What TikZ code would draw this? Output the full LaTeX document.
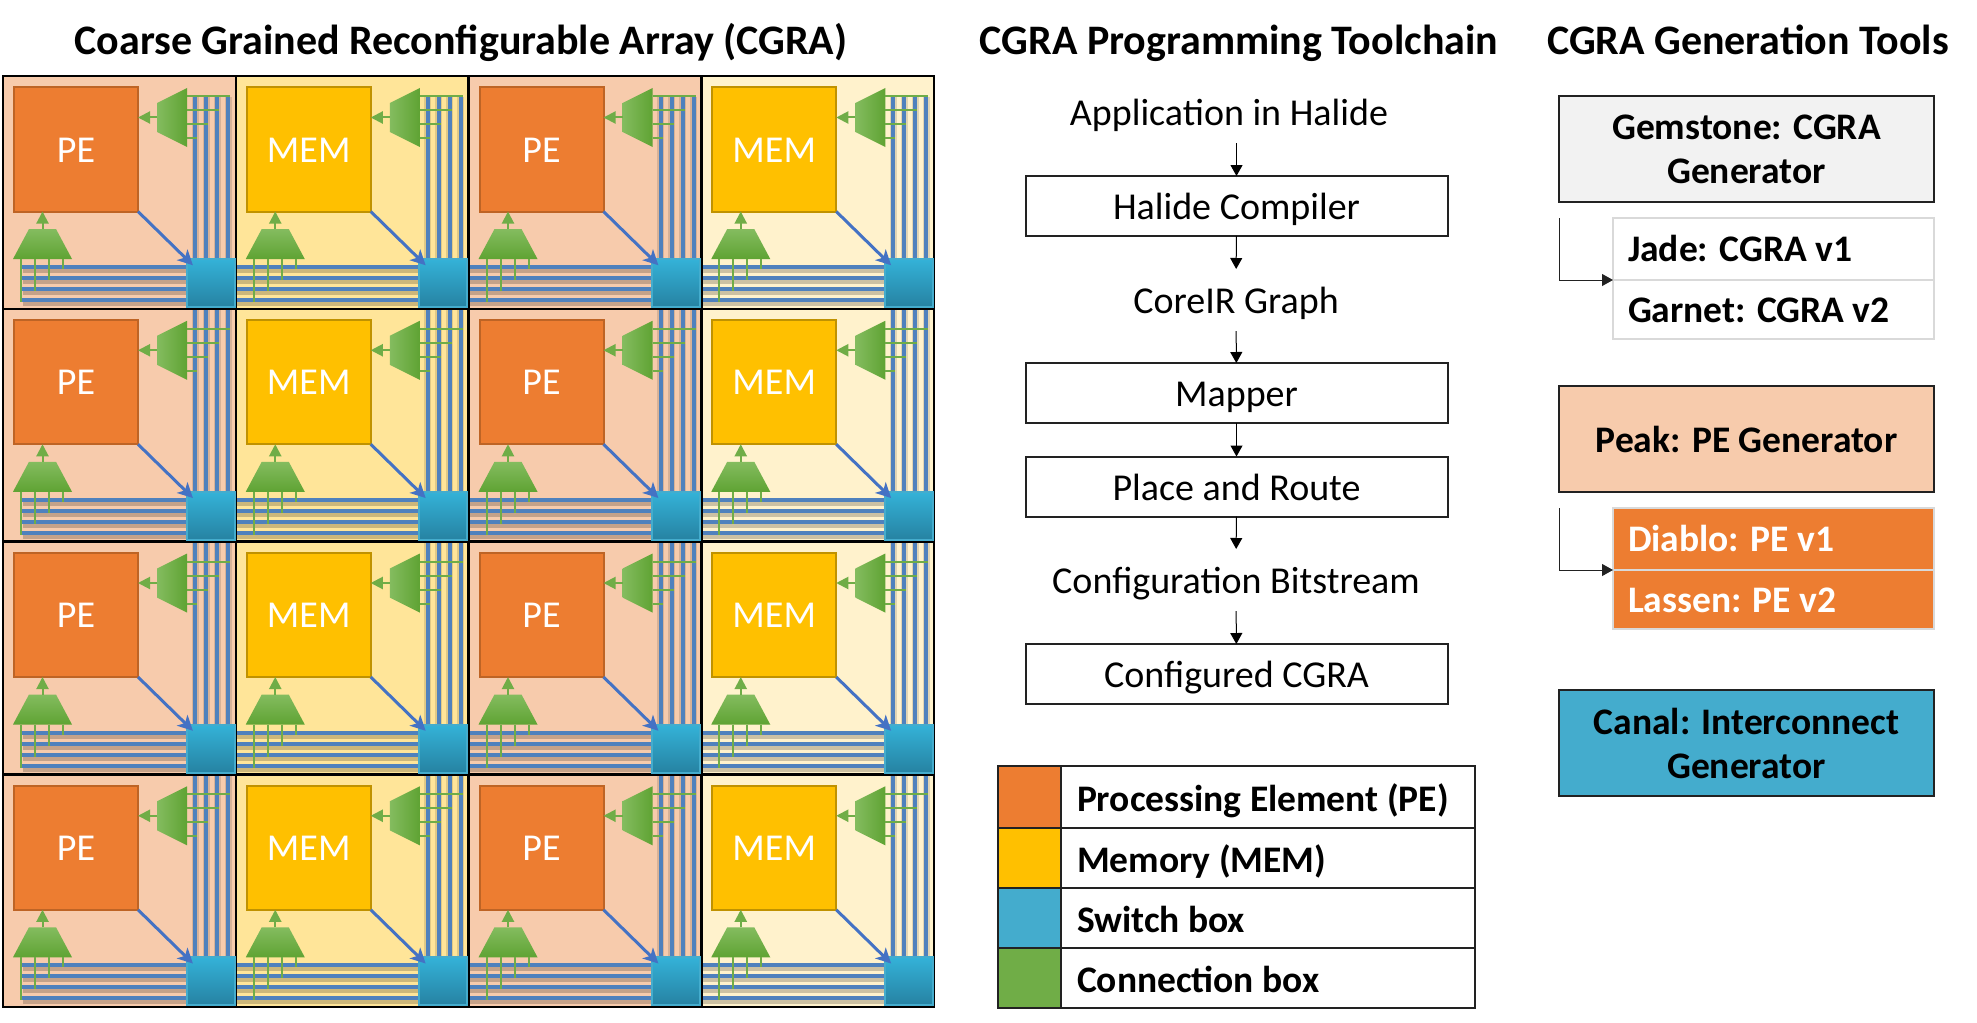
\documentclass[tikz,border=0pt]{standalone}
\usepackage{xcolor}
\usepackage{fontspec}
\setmainfont{Carlito}
\usetikzlibrary{arrows.meta,positioning,shadows}

\definecolor{peback}{HTML}{F7CBAC}
\definecolor{memback}{HTML}{FFE599}
\definecolor{lightback}{HTML}{FFF2CC}
\definecolor{pefill}{HTML}{ED7D31}
\definecolor{peline}{HTML}{BE6425}
\definecolor{memfill}{HTML}{FFC000}
\definecolor{memline}{HTML}{C09200}
\definecolor{sbfill}{HTML}{44ACCD}
\definecolor{sbtop}{HTML}{34B2D8}
\definecolor{sbbottom}{HTML}{2682A2}
\definecolor{cbfill}{HTML}{70AD47}
\definecolor{cblight}{HTML}{84BC5F}
\definecolor{cbdark}{HTML}{5FA333}
\definecolor{wireblue}{HTML}{4F81BD}
\definecolor{arrowblue}{HTML}{4472C4}
\definecolor{inkline}{HTML}{222222}
\definecolor{softgrey}{HTML}{D9D9D9}
\definecolor{genfill}{HTML}{F2F2F2}

\tikzset{
    headtext/.style={font=\fontsize{42}{50}\selectfont\bfseries, inner sep=0pt, text height=30pt, text depth=10pt},
    tile/.style={draw=none, outer sep=0pt, minimum width=232.75pt, minimum height=232.75pt, anchor=north west, inner sep=0pt},
    gridcell/.style={draw=black, line width=2.5pt, outer sep=0pt, minimum width=232.75pt, minimum height=232.75pt, anchor=north west, inner sep=0pt},
    blockbase/.style={line width=2pt, outer sep=0pt, minimum width=124pt, minimum height=124pt, inner sep=0pt, text=white,
        text height=29pt, text depth=4pt, font=\fontsize{38}{44}\selectfont},
    peblock/.style={blockbase, draw=peline, fill=pefill},
    memblock/.style={blockbase, draw=memline, fill=memfill},
    switchbox/.style={draw=sbfill, line width=2pt, outer sep=0pt, top color=sbtop, bottom color=sbbottom, minimum width=48pt, minimum height=48pt, inner sep=0pt,
        drop shadow={shadow xshift=-1pt, shadow yshift=-3pt, opacity=.25, fill=black}},
    sidemux/.style={left color=cblight, right color=cbdark},
    lowmux/.style={top color=cblight, bottom color=cbdark},
    wire/.style={wireblue, line width=4pt},
    wireshadow/.style={black, opacity=.2, line width=6pt},
    riseshadow/.style={black, opacity=.12, line width=7pt},
    cbwire/.style={cbfill, line width=2pt},
    cbarrow/.style={cbfill, line width=2pt, -{Triangle[length=12pt,width=12pt]}},
    dataarrow/.style={arrowblue, line width=3pt, -{Stealth[length=15pt,width=15pt,inset=4pt]}, shorten >=-9pt},
    flowtext/.style={font=\fontsize{38}{44}\selectfont, outer sep=0pt, minimum height=62pt, inner sep=0pt, text height=33pt, text depth=6pt},
    flowbox/.style={draw=inkline, line width=2pt, outer sep=0pt, font=\fontsize{38}{44}\selectfont, minimum width=422pt, minimum height=60pt, inner sep=0pt,
        text height=33pt, text depth=6pt},
    flowarrow/.style={black, line width=1pt, -{Triangle[length=11pt,width=12pt]}},
    elbowarrow/.style={inkline, line width=1pt, -{Triangle[length=11pt,width=12pt]}},
    legcell/.style={draw=inkline, line width=2.5pt, outer sep=0pt, minimum width=63pt, inner sep=0pt, anchor=north west},
    legrow/.style={draw=inkline, line width=2.5pt, outer sep=0pt, text width=382pt, align=flush left, inner ysep=0pt, inner xsep=16pt, anchor=north west,
        text height=33pt, text depth=4pt, font=\fontsize{37.5}{44}\selectfont\bfseries},
    genbox/.style={draw=inkline, line width=2.5pt, outer sep=0pt, minimum width=375pt, minimum height=106pt, inner sep=0pt, align=flush center,
        font=\fontsize{37.5}{44}\selectfont\bfseries},
    verrow/.style={draw=softgrey, line width=2.5pt, outer sep=0pt, text width=291pt, align=flush left, inner ysep=0pt, inner xsep=15pt, anchor=north west,
        text height=30pt, text depth=5pt, font=\fontsize{37.5}{44}\selectfont\bfseries},
}

\begin{document}
\begin{tikzpicture}[x=1pt,y=-1pt]
    \useasboundingbox (0,0) rectangle (1977,1022);

    % headings
    \node[headtext] (cgrahead) at (461,45) {Coarse Grained Reconfigurable Array (CGRA)};
    \node[headtext] (toolhead) at (1239,45) {CGRA Programming Toolchain};
    \node[headtext] (genhead) at (1748,45) {CGRA Generation Tools};

    % tile backgrounds and routing wires
    \foreach \c/\tilefill in {0/peback,1/memback,2/peback,3/lightback}{
        \foreach \r in {0,1,2,3}{
            \pgfmathsetmacro{\tx}{3+232.75*\c}
            \pgfmathsetmacro{\ty}{76+232.75*\r}
            \begin{scope}[shift={(\tx,\ty)}]
                \node[tile, fill=\tilefill] (tile\c\r) at (0,0) {};
                \pgfmathsetmacro{\wirex}{\c==0 ? 19 : 0}
                \pgfmathsetmacro{\wirey}{\r==0 ? 20 : 0}
                \foreach \w in {191,202,213,224}{
                    \draw[wireshadow] (\wirex+1,\w+3) -- (184,\w+3);
                    \draw[wire] (\wirex,\w) -- (184,\w);
                }
                \foreach \w in {192,203,214,225}{
                    \draw[riseshadow] (\w,\wirey+1) -- (\w,184);
                    \draw[wire] (\w,\wirey) -- (\w,184);
                }
            \end{scope}
        }
    }

    % tile outlines
    \foreach \c in {0,1,2,3}{
        \foreach \r in {0,1,2,3}{
            \node[gridcell] (cell\c\r) at (3+232.75*\c,76+232.75*\r) {};
        }
    }

    % blocks, connection boxes and switch boxes
    \foreach \c/\kind/\name in {0/peblock/PE,1/memblock/MEM,2/peblock/PE,3/memblock/MEM}{
        \foreach \r in {0,1,2,3}{
            \pgfmathsetmacro{\tx}{3+232.75*\c}
            \pgfmathsetmacro{\ty}{76+232.75*\r}
            \begin{scope}[shift={(\tx,\ty)}]
                \node[\kind] (pe\c\r) at (73,73.5) {\name};
                \node[switchbox] (sw\c\r) at (207.5,207) {};
                \shade[sidemux] (154,27) -- (184,12) -- (184,71) -- (154,56) -- cycle;
                \shade[lowmux] (26,153) -- (53,153) -- (69,183) -- (10,183) -- cycle;
                \coordinate (cbs\c\r) at (154,41.5);
                \coordinate (cbl\c\r) at (39.5,153);
                \draw[cbarrow] (cbs\c\r) -- (cbs\c\r -| pe\c\r.east);
                \draw[cbarrow] (cbl\c\r) -- (cbl\c\r |- pe\c\r.south);
                \draw[dataarrow] (pe\c\r.south east) -- (sw\c\r.north west);
                \foreach \w/\wend in {20/227,34/216,48/205,62/194}{
                    \draw[cbwire] (184,\w) -- (\wend,\w);
                }
                \foreach \w/\wend in {18/226,32/215,46/204,60/193}{
                    \draw[cbwire] (\w,183) -- (\w,\wend);
                }
            \end{scope}
        }
    }

    % toolchain
    \node[flowtext] (app) at (1229,112) {Application in Halide};
    \node[flowbox] (halide) at (1236.5,206) {Halide Compiler};
    \node[flowtext] (coreir) at (1236,300) {CoreIR Graph};
    \node[flowbox] (mapper) at (1236.5,393) {Mapper};
    \node[flowbox] (pnr) at (1236.5,486.5) {Place and Route};
    \node[flowtext] (bits) at (1236,580) {Configuration Bitstream};
    \node[flowbox] (cfg) at (1236.5,674) {Configured CGRA};
    \draw[flowarrow] (app.south -| halide.north) -- (halide.north);
    \draw[flowarrow] (halide) -- (coreir);
    \draw[flowarrow] (coreir) -- (mapper);
    \draw[flowarrow] (mapper) -- (pnr);
    \draw[flowarrow] (pnr) -- (bits);
    \draw[flowarrow] (bits) -- (cfg);

    % legend
    \foreach \y/\rowh/\tone/\txt/\id in {766/62/pefill/Processing Element (PE)/pe,828/60/memfill/Memory (MEM)/mem,888/60/sbfill/Switch box/sb,948/60/cbfill/Connection box/cb}{
        \node[legcell, fill=\tone, minimum height=\rowh pt] (key\id) at (998,\y) {};
        \node[legrow, minimum height=\rowh pt, right=0pt of key\id.north east, anchor=north west] (lab\id) {\txt};
    }

    % generators
    \node[genbox, fill=genfill] (gemstone) at (1746.5,149) {Gemstone: CGRA\\Generator};
    \node[verrow, minimum height=62pt] (jade) at (1613,218) {Jade: CGRA v1};
    \node[verrow, minimum height=59pt, below=0pt of jade.south west, anchor=north west] (garnet) {Garnet: CGRA v2};
    \coordinate (gemfoot) at (1559,218);
    \draw[elbowarrow] (gemfoot) |- (jade.south west);

    \node[genbox, fill=peback] (peak) at (1746.5,439) {Peak: PE Generator};
    \node[verrow, minimum height=62pt, fill=pefill, text=white] (diablo) at (1613,508) {Diablo: PE v1};
    \node[verrow, minimum height=59pt, fill=pefill, text=white, below=0pt of diablo.south west, anchor=north west] (lassen) {Lassen: PE v2};
    \coordinate (peakfoot) at (1559,508);
    \draw[elbowarrow] (peakfoot) |- (diablo.south west);

    \node[genbox, fill=sbfill] (canal) at (1746.5,743) {Canal: Interconnect\\Generator};
\end{tikzpicture}
\end{document}
